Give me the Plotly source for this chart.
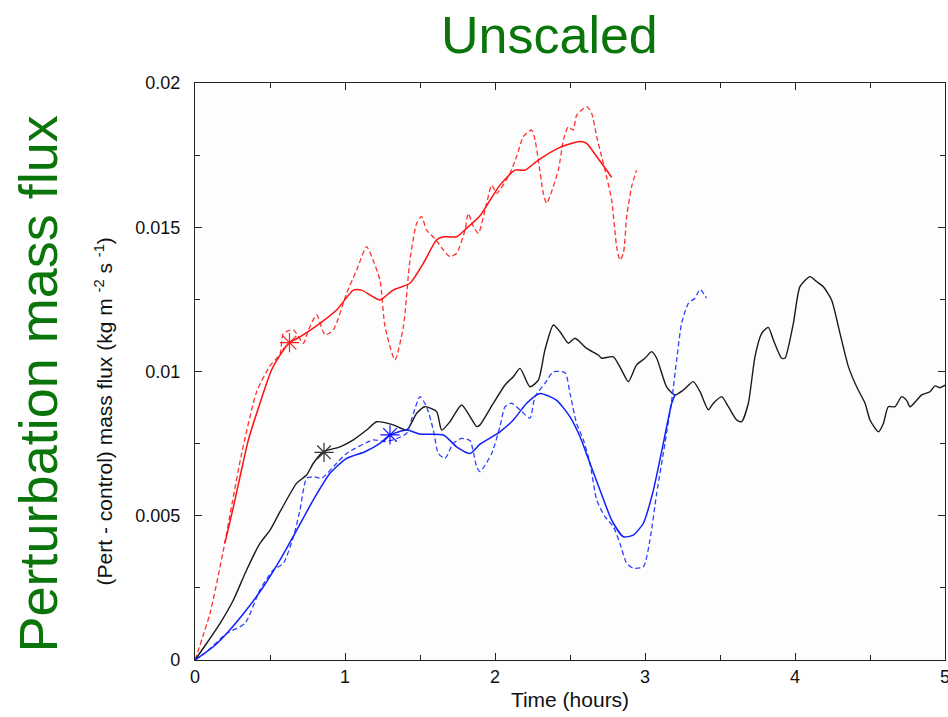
import plotly.graph_objects as go

# Time (hours) and perturbation mass flux (kg m^-2 s^-1) for each run
red_solid_t = [0.2, 0.256, 0.3, 0.356, 0.433, 0.51, 0.567, 0.63, 0.7, 0.833, 0.944, 1.056, 1.11,
               1.233, 1.32, 1.433, 1.522, 1.61, 1.656, 1.744, 1.81, 1.9, 1.967, 2.033, 2.133, 2.2,
               2.289, 2.433, 2.567, 2.611, 2.678, 2.778]
red_solid_y = [0.00406, 0.00531, 0.00635, 0.00763, 0.0089, 0.01005, 0.01057, 0.011, 0.0112, 0.01167,
               0.01213, 0.01282, 0.01282, 0.01248, 0.01282, 0.01306, 0.01375, 0.01456, 0.01467,
               0.01467, 0.01496, 0.0154, 0.01594, 0.01646, 0.01698, 0.01698, 0.01733, 0.01777,
               0.01797, 0.01791, 0.01745, 0.01673]

red_dash_t = [0.0, 0.1, 0.189, 0.25, 0.311, 0.411, 0.5, 0.567, 0.589, 0.656, 0.722, 0.756, 0.811,
              0.867, 0.922, 1.011, 1.078, 1.144, 1.178, 1.233, 1.267, 1.333, 1.389, 1.433, 1.478,
              1.511, 1.544, 1.6, 1.656, 1.7, 1.744, 1.8, 1.822, 1.856, 1.889, 1.944, 1.978, 2.011,
              2.1, 2.144, 2.189, 2.244, 2.267, 2.289, 2.322, 2.344, 2.422, 2.456, 2.489, 2.522,
              2.544, 2.611, 2.644, 2.678, 2.711, 2.744, 2.778, 2.811, 2.833, 2.856, 2.878, 2.911,
              2.944]
red_dash_y = [0.0, 0.00162, 0.0038, 0.0055, 0.00716, 0.0093, 0.0102, 0.0106, 0.01132, 0.01144,
              0.01098, 0.01144, 0.01196, 0.01127, 0.01144, 0.01271, 0.01352, 0.01433, 0.01398,
              0.01317, 0.01155, 0.0104, 0.01155, 0.01386, 0.01514, 0.01537, 0.0149, 0.0146,
              0.01421, 0.01398, 0.0141, 0.0149, 0.01548, 0.01502, 0.01479, 0.01583, 0.01646,
              0.01618, 0.01687, 0.01745, 0.01814, 0.01837, 0.01802, 0.01733, 0.01618, 0.01583,
              0.01698, 0.01802, 0.01848, 0.01837, 0.01888, 0.01918, 0.01895, 0.01814, 0.01745,
              0.01675, 0.01594, 0.01433, 0.01386, 0.0141, 0.01537, 0.01641, 0.01698]

black_t = [0.0, 0.078, 0.167, 0.256, 0.344, 0.433, 0.5, 0.567, 0.678, 0.744, 0.789, 0.856, 0.967,
           1.056, 1.144, 1.211, 1.322, 1.411, 1.478, 1.533, 1.611, 1.644, 1.7, 1.778, 1.878, 1.9,
           1.989, 2.067, 2.122, 2.167, 2.233, 2.289, 2.333, 2.389, 2.433, 2.489, 2.533, 2.611,
           2.689, 2.711, 2.789, 2.844, 2.889, 2.944, 3.0, 3.044, 3.078, 3.144, 3.2, 3.256, 3.322,
           3.367, 3.422, 3.456, 3.511, 3.556, 3.611, 3.644, 3.689, 3.733, 3.778, 3.822, 3.856,
           3.911, 3.933, 3.989, 4.033, 4.1, 4.144, 4.189, 4.244, 4.3, 4.356, 4.411, 4.467, 4.5,
           4.556, 4.589, 4.622, 4.667, 4.711, 4.744, 4.767, 4.811, 4.844, 4.9, 4.933, 4.967, 5.0]
black_y = [0.0, 0.00058, 0.00127, 0.00208, 0.00312, 0.00404, 0.0045, 0.00514, 0.00613, 0.00641,
           0.00682, 0.00722, 0.00739, 0.00763, 0.00797, 0.00826, 0.00815, 0.00797, 0.00855,
           0.00878, 0.00861, 0.00797, 0.00826, 0.00884, 0.00809, 0.00815, 0.0089, 0.00953,
           0.00982, 0.01011, 0.00947, 0.0097, 0.01075, 0.01161, 0.01138, 0.01098, 0.01115, 0.0108,
           0.01057, 0.01046, 0.01051, 0.01005, 0.00965, 0.01023, 0.01046, 0.01069, 0.01046,
           0.00947, 0.00919, 0.00936, 0.00965, 0.0093, 0.00867, 0.0089, 0.00913, 0.00878, 0.00832,
           0.00826, 0.0089, 0.01051, 0.01132, 0.01153, 0.01109, 0.01046, 0.01046, 0.01167,
           0.01294, 0.01329, 0.01312, 0.01294, 0.01248, 0.01132, 0.01017, 0.00947, 0.0089,
           0.00832, 0.00791, 0.0082, 0.00878, 0.00878, 0.00913, 0.009, 0.00878, 0.009, 0.00919,
           0.0093, 0.0095, 0.00944, 0.00953]

blue_solid_t = [0.0, 0.122, 0.222, 0.333, 0.456, 0.567, 0.678, 0.789, 0.9, 1.011, 1.133, 1.233,
                1.3, 1.411, 1.5, 1.656, 1.744, 1.833, 1.9, 2.033, 2.122, 2.211, 2.3, 2.411, 2.5,
                2.567, 2.633, 2.7, 2.778, 2.856, 2.922, 2.989, 3.056, 3.122, 3.178, 3.2]
blue_solid_y = [0.0, 0.00046, 0.00098, 0.00167, 0.00254, 0.00347, 0.0045, 0.00555, 0.00647,
                0.00699, 0.00722, 0.00751, 0.0078, 0.00797, 0.00783, 0.0078, 0.00739, 0.00716,
                0.00748, 0.00791, 0.00832, 0.0089, 0.00924, 0.009, 0.00843, 0.00774, 0.00682,
                0.00589, 0.00485, 0.00427, 0.00433, 0.00474, 0.00589, 0.00751, 0.0089, 0.00919]

blue_dash_t = [0.0, 0.078, 0.211, 0.333, 0.433, 0.522, 0.589, 0.656, 0.7, 0.744, 0.789, 0.844,
               0.944, 1.011, 1.189, 1.256, 1.322, 1.411, 1.456, 1.5, 1.544, 1.589, 1.622, 1.667,
               1.722, 1.778, 1.833, 1.878, 1.9, 1.978, 2.033, 2.067, 2.111, 2.167, 2.233, 2.267,
               2.333, 2.389, 2.467, 2.5, 2.544, 2.589, 2.633, 2.678, 2.733, 2.789, 2.833, 2.878,
               2.922, 2.989, 3.033, 3.078, 3.133, 3.178, 3.211, 3.244, 3.289, 3.333, 3.367, 3.411]
blue_dash_y = [0.0, 0.00029, 0.00092, 0.00127, 0.00243, 0.00312, 0.00335, 0.00427, 0.0052,
               0.0063, 0.00635, 0.0063, 0.00682, 0.00716, 0.00763, 0.00757, 0.00763, 0.00786,
               0.00855, 0.00913, 0.00878, 0.00797, 0.00716, 0.00699, 0.00751, 0.00768, 0.0076,
               0.0067, 0.00653, 0.00716, 0.00809, 0.00878, 0.0089, 0.00867, 0.00838, 0.00913,
               0.00959, 0.00999, 0.00996, 0.00924, 0.0082, 0.00763, 0.00682, 0.00555, 0.00497,
               0.00462, 0.00404, 0.00335, 0.00318, 0.00323, 0.00416, 0.00578, 0.00751, 0.009,
               0.0104, 0.01167, 0.01236, 0.01254, 0.01285, 0.01254]

# Asterisk markers on each run
star_t = [0.63, 0.86, 1.3]
star_y = [0.011, 0.0072, 0.0078]
star_colors = ["#ff2020", "#333333", "#1010ff"]

GREEN = "#0a750a"
FONT = "Liberation Sans, Arial, sans-serif"
DASH = "5px,3px"

fig = go.Figure()


def add_line(t, y, color, dash=None, width=1.4):
    fig.add_trace(go.Scatter(
        x=t, y=y, mode="lines",
        line=dict(color=color, width=width, dash=dash, shape="spline", smoothing=0.6),
        showlegend=False, hoverinfo="skip",
    ))


add_line(red_dash_t, red_dash_y, "#ff3030", DASH, 1.3)
add_line(red_solid_t, red_solid_y, "#ff1010", None, 1.5)
add_line(black_t, black_y, "#1a1a1a", None, 1.4)
add_line(blue_dash_t, blue_dash_y, "#3040ff", DASH, 1.3)
add_line(blue_solid_t, blue_solid_y, "#1020ff", None, 1.5)

fig.add_trace(go.Scatter(
    x=star_t, y=star_y, mode="markers",
    marker=dict(symbol="asterisk-open", size=16, color=star_colors,
                line=dict(color=star_colors, width=1.2)),
    showlegend=False, hoverinfo="skip",
))

axis_common = dict(
    showgrid=False, zeroline=False, showline=True, linecolor="#222", linewidth=1.3,
    mirror="ticks", ticks="inside", ticklen=7, tickcolor="#222", tickwidth=1,
    tickfont=dict(family=FONT, size=18, color="#111"),
    ticklabeloverflow="allow", automargin=False,
)

fig.update_xaxes(
    range=[0, 5], dtick=1, tick0=0,
    minor=dict(dtick=0.5, ticks="inside", ticklen=5, tickcolor="#222"),
    title=dict(text="Time (hours)", font=dict(family=FONT, size=21, color="#111"), standoff=6),
    **axis_common,
)
fig.update_yaxes(
    range=[0, 0.02], dtick=0.005, tick0=0,
    minor=dict(dtick=0.0025, ticks="inside", ticklen=5, tickcolor="#222"),
    ticklabelstandoff=10,
    **axis_common,
)

# Panel title and axis labels
fig.add_annotation(
    text="Unscaled", xref="paper", yref="paper", x=0.473, y=1.083,
    xanchor="center", yanchor="middle", showarrow=False,
    font=dict(family=FONT, size=52, color=GREEN),
)
fig.add_annotation(
    text="Perturbation mass flux", xref="paper", yref="paper", x=-0.209, y=0.478,
    xanchor="center", yanchor="middle", textangle=-90, showarrow=False,
    font=dict(family=FONT, size=54, color=GREEN),
)
fig.add_annotation(
    text="(Pert - control) mass flux (kg m <sup>-2</sup> s <sup>-1</sup>)",
    xref="paper", yref="paper", x=-0.122, y=0.43,
    xanchor="center", yanchor="middle", textangle=-90, showarrow=False,
    font=dict(family=FONT, size=21, color="#111"),
)

fig.update_layout(
    width=948, height=717,
    margin=dict(l=195, r=3, t=83, b=57),
    paper_bgcolor="white", plot_bgcolor="#fdfdfd",
)

fig.write_html("out.html")
